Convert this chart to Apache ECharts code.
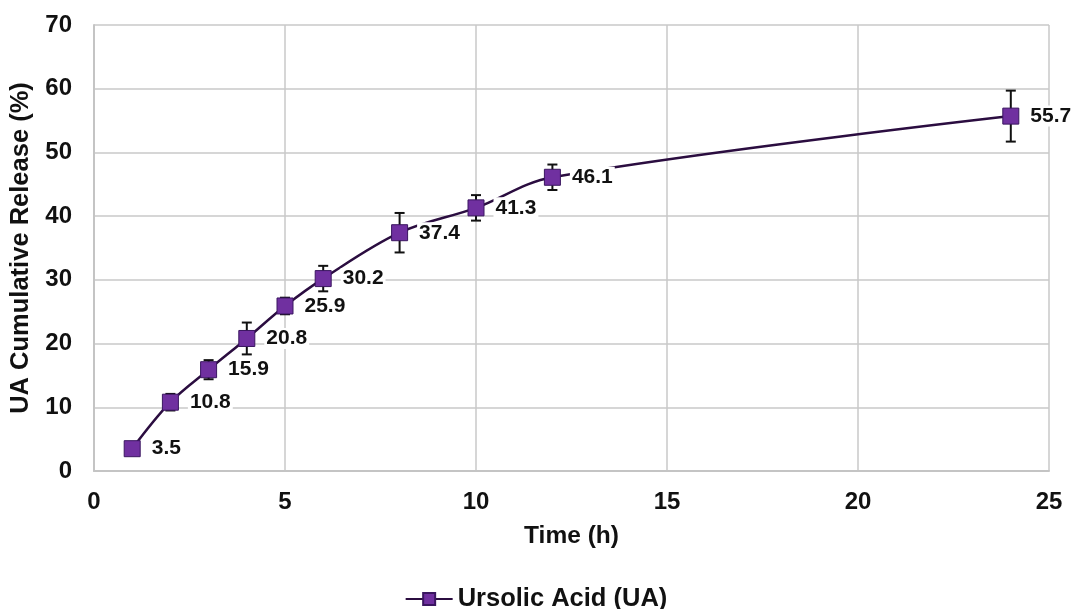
<!DOCTYPE html>
<html>
<head>
<meta charset="utf-8">
<script src="https://cdn.jsdelivr.net/npm/echarts@6/dist/echarts.min.js"></script>
<style>
html,body{margin:0;padding:0;background:#fff;}
#chart{width:1072px;height:609px;}
</style>
</head>
<body>
<div id="chart"></div>
<script>
var times = [1, 2, 3, 4, 5, 6, 8, 10, 12, 24];
var release = [3.5, 10.8, 15.9, 20.8, 25.9, 30.2, 37.4, 41.3, 46.1, 55.7];
var errors = [0.5, 1.3, 1.5, 2.5, 1.3, 2.0, 3.1, 2.0, 2.0, 4.0];
var seriesName = 'Ursolic Acid (UA)';
var xTitle = 'Time (h)';
var yTitle = 'UA Cumulative Release (%)';

var FONT = '"Liberation Sans", Arial, sans-serif';
var lineData = times.map(function (t, i) { return [t, release[i]]; });
var errData = times.map(function (t, i) { return [t, release[i] - errors[i], release[i] + errors[i]]; });

var chart = echarts.init(document.getElementById('chart'));
chart.setOption({
  animation: false,
  backgroundColor: '#fff',
  grid: { left: 94, right: 23, top: 25, bottom: 138 },
  legend: {
    top: 586,
    left: 'center',
    itemWidth: 47,
    itemHeight: 15,
    itemGap: 4,
    padding: 0,
    data: [seriesName],
    textStyle: { fontFamily: FONT, fontWeight: 'bold', fontSize: 25.5, color: '#111' }
  },
  xAxis: {
    type: 'value',
    min: 0, max: 25, interval: 5,
    name: xTitle,
    nameLocation: 'middle',
    nameGap: 53,
    nameTextStyle: { fontFamily: FONT, fontWeight: 'bold', fontSize: 24.5, color: '#111' },
    axisLine: { lineStyle: { color: '#c4c4c4', width: 2 } },
    axisTick: { show: false },
    axisLabel: { fontFamily: FONT, fontWeight: 'bold', fontSize: 24, color: '#111', margin: 19 },
    splitLine: { show: true, lineStyle: { color: '#c8c8c8', width: 1.5 } }
  },
  yAxis: {
    type: 'value',
    min: 0, max: 70, interval: 10,
    name: yTitle,
    nameLocation: 'middle',
    nameGap: 60,
    nameTextStyle: { fontFamily: FONT, fontWeight: 'bold', fontSize: 25.5, color: '#111' },
    axisLine: { show: true, lineStyle: { color: '#c4c4c4', width: 2 } },
    axisTick: { show: false },
    axisLabel: { fontFamily: FONT, fontWeight: 'bold', fontSize: 24, color: '#111', margin: 22 },
    splitLine: { show: true, lineStyle: { color: '#c8c8c8', width: 1.5 } }
  },
  series: [
    {
      name: 'err',
      type: 'custom',
      z: 1,
      silent: true,
      data: errData,
      renderItem: function (params, api) {
        var x = api.value(0);
        var lo = api.coord([x, api.value(1)]);
        var hi = api.coord([x, api.value(2)]);
        var hw = 5;
        var st = { stroke: '#111', lineWidth: 2 };
        return {
          type: 'group',
          children: [
            { type: 'line', shape: { x1: lo[0], y1: lo[1], x2: hi[0], y2: hi[1] }, style: st },
            { type: 'line', shape: { x1: lo[0] - hw, y1: lo[1], x2: lo[0] + hw, y2: lo[1] }, style: st },
            { type: 'line', shape: { x1: hi[0] - hw, y1: hi[1], x2: hi[0] + hw, y2: hi[1] }, style: st }
          ]
        };
      }
    },
    {
      name: seriesName,
      type: 'line',
      z: 3,
      smooth: 0.35,
      data: lineData,
      symbol: 'rect',
      symbolSize: 16,
      lineStyle: { color: '#2b0d40', width: 2.5 },
      itemStyle: { color: '#7030a0', borderColor: '#3a1660', borderWidth: 1 },
      label: {
        show: true,
        position: 'right',
        distance: 9,
        formatter: function (p) { return p.value[1].toFixed(1); },
        fontFamily: FONT, fontWeight: 'bold', fontSize: 21, color: '#111',
        backgroundColor: '#fff',
        padding: [0, 2]
      }
    }
  ]
});
</script>
</body>
</html>
